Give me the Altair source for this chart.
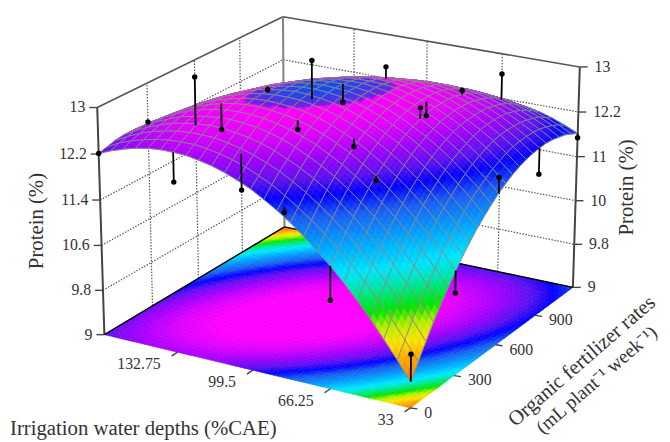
import altair as alt
import numpy as np
import pandas as pd

# Protein (%) read from the surface; one row per irrigation depth (33 .. 166 %CAE in 24 steps),
# one column per organic fertilizer rate (0 .. 1200 in steps of 50).
Z00 = [9.45,9.71,9.96,10.20,10.42,10.62,10.82,11.00,11.16,11.31,11.44,11.56,11.67,11.76,11.84,11.90,11.95,11.98,12.00,12.01,12.00,11.97,11.94,11.88,11.82]
Z01 = [9.77,10.02,10.27,10.49,10.70,10.90,11.09,11.25,11.41,11.55,11.68,11.79,11.88,11.97,12.03,12.09,12.13,12.15,12.16,12.16,12.14,12.11,12.06,12.00,11.92]
Z02 = [10.07,10.32,10.55,10.77,10.97,11.16,11.34,11.50,11.64,11.77,11.89,11.99,12.08,12.15,12.21,12.26,12.29,12.30,12.30,12.29,12.26,12.22,12.17,12.09,12.01]
Z03 = [10.36,10.60,10.82,11.03,11.22,11.40,11.57,11.72,11.86,11.98,12.09,12.18,12.26,12.32,12.37,12.41,12.43,12.44,12.43,12.41,12.37,12.32,12.25,12.17,12.08]
Z04 = [10.63,10.86,11.07,11.27,11.46,11.63,11.78,11.93,12.05,12.17,12.27,12.35,12.42,12.48,12.52,12.54,12.55,12.55,12.54,12.50,12.46,12.40,12.32,12.23,12.13]
Z05 = [10.88,11.10,11.30,11.49,11.67,11.83,11.98,12.11,12.23,12.34,12.43,12.50,12.56,12.61,12.64,12.66,12.66,12.65,12.62,12.58,12.53,12.46,12.38,12.28,12.16]
Z06 = [11.11,11.32,11.52,11.70,11.87,12.02,12.16,12.28,12.39,12.49,12.57,12.63,12.69,12.72,12.75,12.75,12.75,12.73,12.69,12.64,12.58,12.50,12.41,12.30,12.18]
Z07 = [11.32,11.53,11.71,11.89,12.05,12.19,12.32,12.43,12.53,12.62,12.69,12.75,12.79,12.82,12.83,12.83,12.82,12.79,12.74,12.69,12.61,12.53,12.43,12.31,12.18]
Z08 = [11.52,11.71,11.89,12.06,12.21,12.34,12.46,12.57,12.66,12.73,12.80,12.85,12.88,12.90,12.90,12.89,12.87,12.83,12.78,12.71,12.63,12.53,12.42,12.30,12.16]
Z09 = [11.70,11.88,12.05,12.21,12.35,12.47,12.58,12.68,12.76,12.83,12.89,12.92,12.95,12.96,12.96,12.94,12.90,12.86,12.79,12.72,12.63,12.52,12.40,12.27,12.12]
Z10 = [11.86,12.03,12.19,12.34,12.47,12.59,12.69,12.78,12.85,12.91,12.96,12.99,13.00,13.00,12.99,12.96,12.92,12.86,12.79,12.71,12.61,12.49,12.36,12.22,12.06]
Z11 = [12.00,12.17,12.32,12.45,12.58,12.68,12.78,12.86,12.92,12.97,13.01,13.03,13.03,13.03,13.00,12.97,12.92,12.85,12.77,12.68,12.57,12.44,12.31,12.15,11.99]
Z12 = [12.13,12.28,12.42,12.55,12.67,12.76,12.85,12.92,12.97,13.01,13.04,13.05,13.05,13.03,13.00,12.96,12.90,12.82,12.73,12.63,12.51,12.38,12.23,12.07,11.90]
Z13 = [12.23,12.38,12.51,12.63,12.74,12.82,12.90,12.96,13.01,13.04,13.06,13.06,13.05,13.02,12.98,12.93,12.86,12.77,12.68,12.56,12.44,12.30,12.14,11.97,11.79]
Z14 = [12.32,12.46,12.58,12.69,12.79,12.87,12.93,12.98,13.02,13.05,13.05,13.05,13.03,12.99,12.94,12.88,12.80,12.71,12.60,12.48,12.34,12.19,12.03,11.85,11.66]
Z15 = [12.39,12.52,12.63,12.73,12.82,12.89,12.95,12.99,13.02,13.03,13.03,13.02,12.99,12.95,12.89,12.81,12.73,12.63,12.51,12.38,12.23,12.07,11.90,11.71,11.51]
Z16 = [12.44,12.56,12.67,12.76,12.84,12.90,12.95,12.98,13.00,13.00,12.99,12.97,12.93,12.88,12.81,12.73,12.63,12.52,12.40,12.26,12.10,11.94,11.75,11.56,11.34]
Z17 = [12.48,12.59,12.68,12.77,12.83,12.89,12.93,12.95,12.96,12.96,12.94,12.91,12.86,12.80,12.72,12.63,12.52,12.40,12.27,12.12,11.96,11.78,11.59,11.38,11.16]
Z18 = [12.49,12.59,12.68,12.75,12.81,12.86,12.89,12.90,12.90,12.89,12.86,12.82,12.77,12.69,12.61,12.51,12.39,12.27,12.12,11.97,11.79,11.61,11.41,11.19,10.96]
Z19 = [12.49,12.58,12.66,12.72,12.77,12.81,12.83,12.84,12.83,12.81,12.77,12.72,12.65,12.57,12.48,12.37,12.25,12.11,11.96,11.79,11.61,11.41,11.20,10.98,10.74]
Z20 = [12.47,12.55,12.62,12.68,12.72,12.75,12.76,12.75,12.74,12.71,12.66,12.60,12.53,12.44,12.33,12.22,12.08,11.94,11.78,11.60,11.41,11.21,10.99,10.75,10.50]
Z21 = [12.43,12.50,12.57,12.61,12.64,12.66,12.66,12.65,12.63,12.59,12.53,12.46,12.38,12.28,12.17,12.04,11.90,11.74,11.57,11.39,11.19,10.98,10.75,10.51,10.25]
Z22 = [12.37,12.44,12.49,12.53,12.55,12.56,12.55,12.53,12.50,12.45,12.39,12.31,12.21,12.11,11.99,11.85,11.70,11.53,11.36,11.16,10.95,10.73,10.49,10.24,9.98]
Z23 = [12.30,12.36,12.40,12.43,12.44,12.44,12.42,12.39,12.35,12.29,12.22,12.13,12.03,11.92,11.78,11.64,11.48,11.31,11.12,10.92,10.70,10.47,10.22,9.96,9.68]
Z24 = [12.21,12.25,12.29,12.31,12.31,12.30,12.28,12.24,12.19,12.12,12.04,11.94,11.83,11.71,11.57,11.41,11.24,11.06,10.86,10.65,10.43,10.18,9.93,9.66,9.38]
Z_ROWS = [Z00,Z01,Z02,Z03,Z04,Z05,Z06,Z07,Z08,Z09,Z10,Z11,Z12,Z13,Z14,Z15,Z16,Z17,Z18,Z19,Z20,Z21,Z22,Z23,Z24]

# Observed design points (5 x 5 design; one point is hidden in the reference)
OBS_IRRIGATION = [166,132.75,66.25,33, 166,132.75,99.5,66.25,33, 166,132.75,99.5,66.25,33, 166,132.75,99.5,66.25,33, 166,132.75,99.5,66.25,33]
OBS_ORGANIC    = [0,0,0,0, 300,300,300,300,300, 600,600,600,600,600, 900,900,900,900,900, 1200,1200,1200,1200,1200]
OBS_PROTEIN    = [12.21,11.98,10.53,9.92, 12.32,12.44,12.69,12.08,10.44, 12.70,12.71,12.73,12.88,11.94, 10.18,12.82,12.94,12.76,11.54, 9.28,10.81,11.64,12.64,11.74]

IRR_TICKS = [33, 66.25, 99.5, 132.75]
ORG_TICKS = [0, 300, 600, 900]
Z_TICKS = [9, 9.8, 10.6, 11.4, 12.2, 13]
LEFT_LABELS = ["9", "9.8", "10.6", "11.4", "12.2", "13"]
RIGHT_LABELS = ["9", "9.8", "10", "11", "12.2", "13"]

IRR_MIN, IRR_MAX, ORG_MIN, ORG_MAX = 33.0, 166.0, 0.0, 1200.0
Z_MIN, Z_MAX = 9.0, 13.0

# Camera: where known box positions fall in the picture (last item: weight)
CAMERA = [
    (166,0,9,106,335,3),(33,0,9,415,410,10),(33,1200,9,580,287,3),(166,1200,9,287,228,3),
    (166,0,13,98,106,3),(166,1200,13,287,14,3),(33,1200,13,586,65,3),
    (166,300,9,154,306,1),(166,600,9,200,280,1),(166,900,9,245,252,1),
    (132.75,1200,9,358,242,1),(99.5,1200,9,431,258,1),(66.25,1200,9,508,273,1),
    (99.5,0,9,257,372,1),(33,600,9,506,344,1),(33,0,9.45,416,384,10),
]
A, b = [], []
for irr, org, z, px, py, wt in CAMERA:
    X = [(irr-IRR_MIN)/(IRR_MAX-IRR_MIN), (org-ORG_MIN)/(ORG_MAX-ORG_MIN), (z-Z_MIN)/(Z_MAX-Z_MIN)]
    A.append([wt*v for v in X+[1,0,0,0,0]+[-px*v for v in X]]); b.append(wt*px)
    A.append([wt*v for v in [0,0,0,0]+X+[1]+[-py*v for v in X]]); b.append(wt*py)
sol = np.linalg.lstsq(np.array(A,float), np.array(b,float), rcond=None)[0]
P = np.append(sol,1.0).reshape(3,4)

def project(irr, org, z):
    X = np.array([(irr-IRR_MIN)/(IRR_MAX-IRR_MIN), (org-ORG_MIN)/(ORG_MAX-ORG_MIN), (z-Z_MIN)/(Z_MAX-Z_MIN), 1.0])
    u = P @ X
    return float(u[0]/u[2]), float(u[1]/u[2])

OX, OY = 8, 8   # page margin
W, H = 662, 434

# Colour ramp
CAP_LEVEL = 12.96
STOPS = [(9.3,"#ff5a00"),(9.5,"#ff7a00"),(9.8,"#ffb000"),(10.0,"#ffe600"),(10.25,"#b0f000"),(10.45,"#00e600"),
         (10.75,"#00e8a0"),(11.0,"#00e8ff"),(11.35,"#00a8ff"),(11.75,"#1a5cf0"),(12.0,"#0000ff"),(12.2,"#5a10f0"),
         (12.45,"#a000ff"),(12.7,"#e000ff"),(12.88,"#ff00ff")]
CAP_STOPS = [(12.96,"#7a20e0"),(13.06,"#0a50f0")]
def rgb(h): return [int(h[i:i+2],16) for i in (1,3,5)]
def ramp(z, stops):
    zs=[a for a,_ in stops]; cs=np.array([rgb(c) for _,c in stops],float)
    return "#%02x%02x%02x" % tuple(int(round(np.interp(z,zs,cs[:,k]))) for k in range(3))
def colour(z, cap):
    if cap and z>=CAP_LEVEL: return ramp(z,CAP_STOPS)
    return ramp(z,STOPS)

n=len(Z_ROWS); m=len(Z_ROWS[0])
irr_axis=[IRR_MIN+(IRR_MAX-IRR_MIN)*i/(n-1) for i in range(n)]
org_axis=[ORG_MIN+(ORG_MAX-ORG_MIN)*j/(m-1) for j in range(m)]

def feature(ring, fill, stroke, width):
    pts=[[x-OX,y-OY] for x,y in ring]
    return {"type":"Feature","geometry":{"type":"Polygon","coordinates":[pts+[pts[0]]]},
            "properties":{"c":fill,"s":stroke,"w":width}}

SHADES = 3   # colour steps painted inside each mesh cell, so the fill reads as a gradient
floor_f, surf_f = [], []
order = sorted(((i,j) for i in range(n-1) for j in range(m-1)), key=lambda c:-(c[0]+c[1]))
for i,j in order:
    zc=[Z_ROWS[i][j],Z_ROWS[i+1][j],Z_ROWS[i+1][j+1],Z_ROWS[i][j+1]]
    idx=[(i,j),(i+1,j),(i+1,j+1),(i,j+1)]
    pf=np.array([project(irr_axis[a],org_axis[c],Z_MIN) for a,c in idx])
    ps=np.array([project(irr_axis[a],org_axis[c],Z_ROWS[a][c]) for a,c in idx])
    def mix(vals,u,v):
        return (1-u)*(1-v)*vals[0]+u*(1-v)*vals[1]+u*v*vals[2]+(1-u)*v*vals[3]
    for a in range(SHADES):
        for c in range(SHADES):
            u0,u1,v0,v1=a/SHADES,(a+1)/SHADES,c/SHADES,(c+1)/SHADES
            zm=float(mix(zc,(u0+u1)/2,(v0+v1)/2))
            cor=[(u0,v0),(u1,v0),(u1,v1),(u0,v1)]
            fc=colour(min(zm,12.88),False)
            floor_f.append(feature([mix(pf,u,v).tolist() for u,v in cor],fc,fc,0.6))
            sc=colour(zm,True)
            surf_f.append(feature([mix(ps,u,v).tolist() for u,v in cor],sc,sc,0.6))
    surf_f.append(feature(ps.tolist(),"none","#8c8c8c",0.9))

PROJ = dict(type="identity", scale=1, translate=[0,0])
def shapes(feats):
    return alt.Chart(alt.Data(values=feats)).mark_geoshape().encode(
        fill=alt.Fill("properties.c:N",scale=None),
        stroke=alt.Stroke("properties.s:N",scale=None),
        strokeWidth=alt.StrokeWidth("properties.w:Q",scale=None)).project(**PROJ)
floor_layer=shapes(floor_f)
surf_layer=shapes(surf_f)

SX = alt.Scale(domain=[OX,W+OX], nice=False, zero=False)
SY = alt.Scale(domain=[H+OY,OY], nice=False, zero=False)
ex = alt.X("x:Q",scale=SX,axis=None)
ey = alt.Y("y:Q",scale=SY,axis=None)

def seg_table(segs):
    rows=[]
    for g,(a,b_) in enumerate(segs):
        rows.append({"x":a[0],"y":a[1],"g":g,"o":0}); rows.append({"x":b_[0],"y":b_[1],"g":g,"o":1})
    return pd.DataFrame(rows)
def lines(segs, **kw):
    return alt.Chart(seg_table(segs)).mark_line(**kw).encode(x=ex,y=ey,detail="g:N",order="o:Q")

L=(IRR_MAX,ORG_MIN); F=(IRR_MIN,ORG_MIN); R=(IRR_MIN,ORG_MAX); B=(IRR_MAX,ORG_MAX)
wall_grid=[]
for z in Z_TICKS[1:-1]:
    wall_grid.append((project(*L,z),project(*B,z)))
    wall_grid.append((project(*B,z),project(*R,z)))
for o in ORG_TICKS[1:]:
    wall_grid.append((project(IRR_MAX,o,Z_MIN),project(IRR_MAX,o,Z_MAX)))
for i_ in IRR_TICKS[1:]:
    wall_grid.append((project(i_,ORG_MAX,Z_MIN),project(i_,ORG_MAX,Z_MAX)))
grid_layer=lines(wall_grid,color="#555555",strokeWidth=1.2,strokeDash=[1.5,1.5])
top_layer=lines([(project(*L,Z_MAX),project(*B,Z_MAX)),(project(*B,Z_MAX),project(*R,Z_MAX))],color="#555555",strokeWidth=1.6)
back_layer=lines([(project(*B,Z_MIN),project(*B,Z_MAX))],color="#808080",strokeWidth=2)
axis_layer=lines([(project(*L,Z_MIN),project(*L,Z_MAX)),(project(*R,Z_MIN),project(*R,Z_MAX))],color="#444444",strokeWidth=2)
floor_edge=lines([(project(*L,Z_MIN),project(*B,Z_MIN)),(project(*B,Z_MIN),project(*R,Z_MIN))],color="#000000",strokeWidth=1.4)

ticks=[]
for z in Z_TICKS:
    x,y=project(*L,z); ticks.append(((x,y),(x-8,y)))
    x,y=project(*R,z); ticks.append(((x,y),(x+8,y)))
for v in IRR_TICKS:
    x,y=project(v,ORG_MIN,Z_MIN); ticks.append(((x,y),(x-6,y+4)))
for v in ORG_TICKS:
    x,y=project(IRR_MIN,v,Z_MIN); ticks.append(((x,y),(x+7,y+1)))
tick_layer=lines(ticks,color="#444444",strokeWidth=1.4)

# stems and dots
stems=[]; dots=[]
for a,o,p in zip(OBS_IRRIGATION,OBS_ORGANIC,OBS_PROTEIN):
    i_=int(round((a-IRR_MIN)/(IRR_MAX-IRR_MIN)*(n-1))); j_=int(round((o-ORG_MIN)/(ORG_MAX-ORG_MIN)*(m-1)))
    stems.append((project(a,o,p),project(a,o,Z_ROWS[i_][j_])))
    x,y=project(a,o,p); dots.append({"x":x,"y":y})
stem_layer=lines(stems,color="#000000",strokeWidth=1.8)
dot_layer=alt.Chart(pd.DataFrame(dots)).mark_point(filled=True,color="#000000",size=30,opacity=1).encode(x=ex,y=ey)

FONT="Liberation Serif"; TC="#333333"
def texts(rows, **kw):
    return alt.Chart(pd.DataFrame(rows)).mark_text(font=FONT,color=TC,**kw).encode(x=ex,y=ey,text="t:N")
lab_l=[{"x":project(*L,z)[0]-12,"y":project(*L,z)[1],"t":t} for z,t in zip(Z_TICKS,LEFT_LABELS)]
lab_r=[{"x":project(*R,z)[0]+15,"y":project(*R,z)[1],"t":t} for z,t in zip(Z_TICKS,RIGHT_LABELS)]
lab_i=[{"x":project(v,ORG_MIN,Z_MIN)[0]-17,"y":project(v,ORG_MIN,Z_MIN)[1]+12,"t":f"{v:g}"} for v in IRR_TICKS]
lab_o=[{"x":project(IRR_MIN,v,Z_MIN)[0]+14,"y":project(IRR_MIN,v,Z_MIN)[1]+5,"t":f"{v:g}"} for v in ORG_TICKS]
l1=texts(lab_l,align="right",baseline="middle",fontSize=16)
l2=texts(lab_r,align="left",baseline="middle",fontSize=16)
l3=texts(lab_i,align="right",baseline="middle",fontSize=16)
l4=texts(lab_o,align="left",baseline="middle",fontSize=16)
t_left=texts([{"x":37,"y":221,"t":"Protein (%)"}],align="center",baseline="middle",fontSize=21,angle=270)
t_right=texts([{"x":635,"y":187,"t":"Protein (%)"}],align="center",baseline="middle",fontSize=21,angle=270)
t_irr=texts([{"x":10,"y":432,"t":"Irrigation water depths (%CAE)"}],align="left",baseline="middle",fontSize=21)
t_org1=texts([{"x":589,"y":363,"t":"Organic fertilizer rates"}],align="center",baseline="middle",fontSize=21,angle=319)
t_org2=texts([{"x":604,"y":382,"t":"(mL plant\u207b\u00b9 week\u207b\u00b9)"}],align="center",baseline="middle",fontSize=19.5,angle=319)

chart=alt.layer(grid_layer,top_layer,back_layer,axis_layer,floor_layer,floor_edge,tick_layer,surf_layer,
                stem_layer,dot_layer,l1,l2,l3,l4,t_left,t_right,t_irr,t_org1,t_org2
    ).properties(width=W,height=H,padding=0,autosize=alt.AutoSizeParams(type="none"),background="white"
    ).configure_view(strokeWidth=0)
chart.save("out.html",embed_options={"renderer":"svg","actions":False})
